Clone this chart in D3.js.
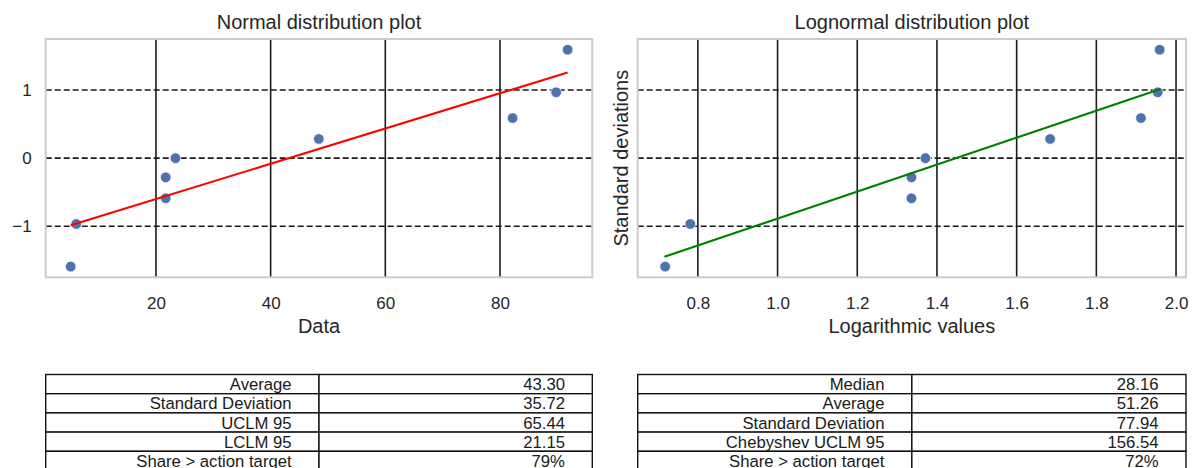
<!DOCTYPE html>
<html>
<head>
<meta charset="utf-8">
<script src="https://cdn.jsdelivr.net/npm/d3@7"></script>
<style>
  html, body { margin: 0; padding: 0; background: #fff; }
  svg { display: block; font-family: "Liberation Sans", Arial, sans-serif; }
</style>
</head>
<body>
<svg id="chart" width="1195" height="468"></svg>
<script>
// ---------- data ----------
// theoretical normal quantiles (standard deviations)
const quantiles = [-1.593, -0.967, -0.589, -0.282, 0.0, 0.282, 0.589, 0.967, 1.593];
// sorted observations (left plot x)
const dataValues = [5.13, 6.1, 21.7, 21.7, 23.4, 48.4, 82.2, 89.8, 91.8];
// log10 of observations (right plot x)
const logValues = [0.718, 0.781, 1.336, 1.336, 1.371, 1.684, 1.912, 1.954, 1.959];
// fitted lines (endpoints)
const normalFitX = [5.13, 91.8];
const normalFitY = [-0.985, 1.258];
const lognormalFitX = [0.716, 1.961];
const lognormalFitY = [-1.449, 1.015];
// axis limits and ticks
const normalXLim = [0.77, 96.1];
const lognormalXLim = [0.649, 2.025];
const yLim = [-1.75, 1.75];
const normalXTicks = [20, 40, 60, 80];
const lognormalXTicks = [0.8, 1.0, 1.2, 1.4, 1.6, 1.8, 2.0];
const yTicks = [-1, 0, 1];
// tables
const normalTableLabels = ["Average", "Standard Deviation", "UCLM 95", "LCLM 95", "Share > action target"];
const normalTableValues = ["43.30", "35.72", "65.44", "21.15", "79%"];
const lognormalTableLabels = ["Median", "Average", "Standard Deviation", "Chebyshev UCLM 95", "Share > action target"];
const lognormalTableValues = ["28.16", "51.26", "77.94", "156.54", "72%"];

// ---------- drawing ----------
const svg = d3.select("#chart");
const textColor = "#262626";
const axTop = 39, axBottom = 277.3;

function panel(opts) {
  const g = svg.append("g");
  const x = d3.scaleLinear().domain(opts.xlim).range([opts.left, opts.right]);
  const y = d3.scaleLinear().domain(yLim).range([axBottom, axTop]);

  // vertical grid (solid)
  g.selectAll(".vgrid").data(opts.xticks).enter().append("line")
    .attr("x1", d => x(d)).attr("x2", d => x(d))
    .attr("y1", axTop).attr("y2", axBottom)
    .attr("stroke", "#1a1a1a").attr("stroke-width", 1.6);
  // horizontal grid (dashed)
  g.selectAll(".hgrid").data(yTicks).enter().append("line")
    .attr("x1", opts.left).attr("x2", opts.right)
    .attr("y1", d => y(d)).attr("y2", d => y(d))
    .attr("stroke", "#1a1a1a").attr("stroke-width", 1.6)
    .attr("stroke-dasharray", "6,3");

  // points
  g.selectAll(".pt").data(opts.xs.map((v, i) => [v, quantiles[i]])).enter().append("circle")
    .attr("cx", d => x(d[0])).attr("cy", d => y(d[1])).attr("r", 5.3)
    .attr("fill", "#4c72b0").attr("stroke", "#fff").attr("stroke-width", 0.7);

  // fit line
  const line = d3.line().x(d => x(d[0])).y(d => y(d[1]));
  g.append("path")
    .datum(opts.fitX.map((v, i) => [v, opts.fitY[i]]))
    .attr("d", line).attr("fill", "none")
    .attr("stroke", opts.lineColor).attr("stroke-width", 2.1);

  // frame
  g.append("rect")
    .attr("x", opts.left).attr("y", axTop)
    .attr("width", opts.right - opts.left).attr("height", axBottom - axTop)
    .attr("fill", "none").attr("stroke", "#cccccc").attr("stroke-width", 2);

  // x axis
  const xa = g.append("g").attr("transform", `translate(0,${axBottom})`)
    .call(d3.axisBottom(x).tickValues(opts.xticks).tickSize(0).tickPadding(20)
      .tickFormat(opts.xfmt));
  xa.select(".domain").remove();
  xa.selectAll("text").attr("font-size", 17).attr("fill", textColor)
    .attr("font-family", "Liberation Sans, Arial, sans-serif");

  if (opts.showY) {
    const ya = g.append("g").attr("transform", `translate(${opts.left},0)`)
      .call(d3.axisLeft(y).tickValues(yTicks).tickSize(0).tickPadding(14)
        .tickFormat(d => d < 0 ? "\u2212" + Math.abs(d) : String(d)));
    ya.select(".domain").remove();
    ya.selectAll("text").attr("font-size", 17).attr("fill", textColor)
      .attr("font-family", "Liberation Sans, Arial, sans-serif");
  }

  // title
  g.append("text").attr("x", (opts.left + opts.right) / 2).attr("y", 28.5)
    .attr("text-anchor", "middle").attr("font-size", 20).attr("fill", textColor)
    .text(opts.title);
  // x label
  g.append("text").attr("x", (opts.left + opts.right) / 2).attr("y", 333)
    .attr("text-anchor", "middle").attr("font-size", 20).attr("fill", textColor)
    .text(opts.xlabel);
  if (opts.ylabel) {
    g.append("text")
      .attr("transform", `translate(628,${(axTop + axBottom) / 2}) rotate(-90)`)
      .attr("text-anchor", "middle").attr("font-size", 20).attr("fill", textColor)
      .text(opts.ylabel);
  }
}

function table(left, right, labels, values) {
  const g = svg.append("g");
  const rowTop = 374.5, rowH = 19.2;
  const mid = (left + right) / 2;
  const colW = mid - left;
  const rows = d3.range(labels.length);
  const ry = d3.scaleLinear().domain([0, labels.length]).range([rowTop, rowTop + rowH * labels.length]);
  rows.forEach(i => {
    g.append("rect").attr("x", left).attr("y", ry(i)).attr("width", colW).attr("height", rowH)
      .attr("fill", "#fff").attr("stroke", "#111").attr("stroke-width", 1.4);
    g.append("rect").attr("x", mid).attr("y", ry(i)).attr("width", colW).attr("height", rowH)
      .attr("fill", "#fff").attr("stroke", "#111").attr("stroke-width", 1.4);
  });
  g.selectAll(".lab").data(labels).enter().append("text")
    .attr("x", mid - 0.1 * colW).attr("y", (d, i) => ry(i) + rowH / 2 + 6)
    .attr("text-anchor", "end").attr("font-size", 16.7).attr("fill", "#1a1a1a").text(d => d);
  g.selectAll(".val").data(values).enter().append("text")
    .attr("x", right - 0.1 * colW).attr("y", (d, i) => ry(i) + rowH / 2 + 6)
    .attr("text-anchor", "end").attr("font-size", 16.7).attr("fill", "#1a1a1a").text(d => d);
}

panel({
  left: 45.7, right: 592.3, xlim: normalXLim, xticks: normalXTicks,
  xfmt: d3.format("d"), xs: dataValues, fitX: normalFitX, fitY: normalFitY,
  lineColor: "#ff0000", title: "Normal distribution plot", xlabel: "Data",
  showY: true
});
panel({
  left: 637.7, right: 1186, xlim: lognormalXLim, xticks: lognormalXTicks,
  xfmt: d3.format(".1f"), xs: logValues, fitX: lognormalFitX, fitY: lognormalFitY,
  lineColor: "#008000", title: "Lognormal distribution plot", xlabel: "Logarithmic values",
  ylabel: "Standard deviations", showY: false
});
table(45.7, 592.3, normalTableLabels, normalTableValues);
table(637.7, 1186, lognormalTableLabels, lognormalTableValues);
</script>
</body>
</html>
